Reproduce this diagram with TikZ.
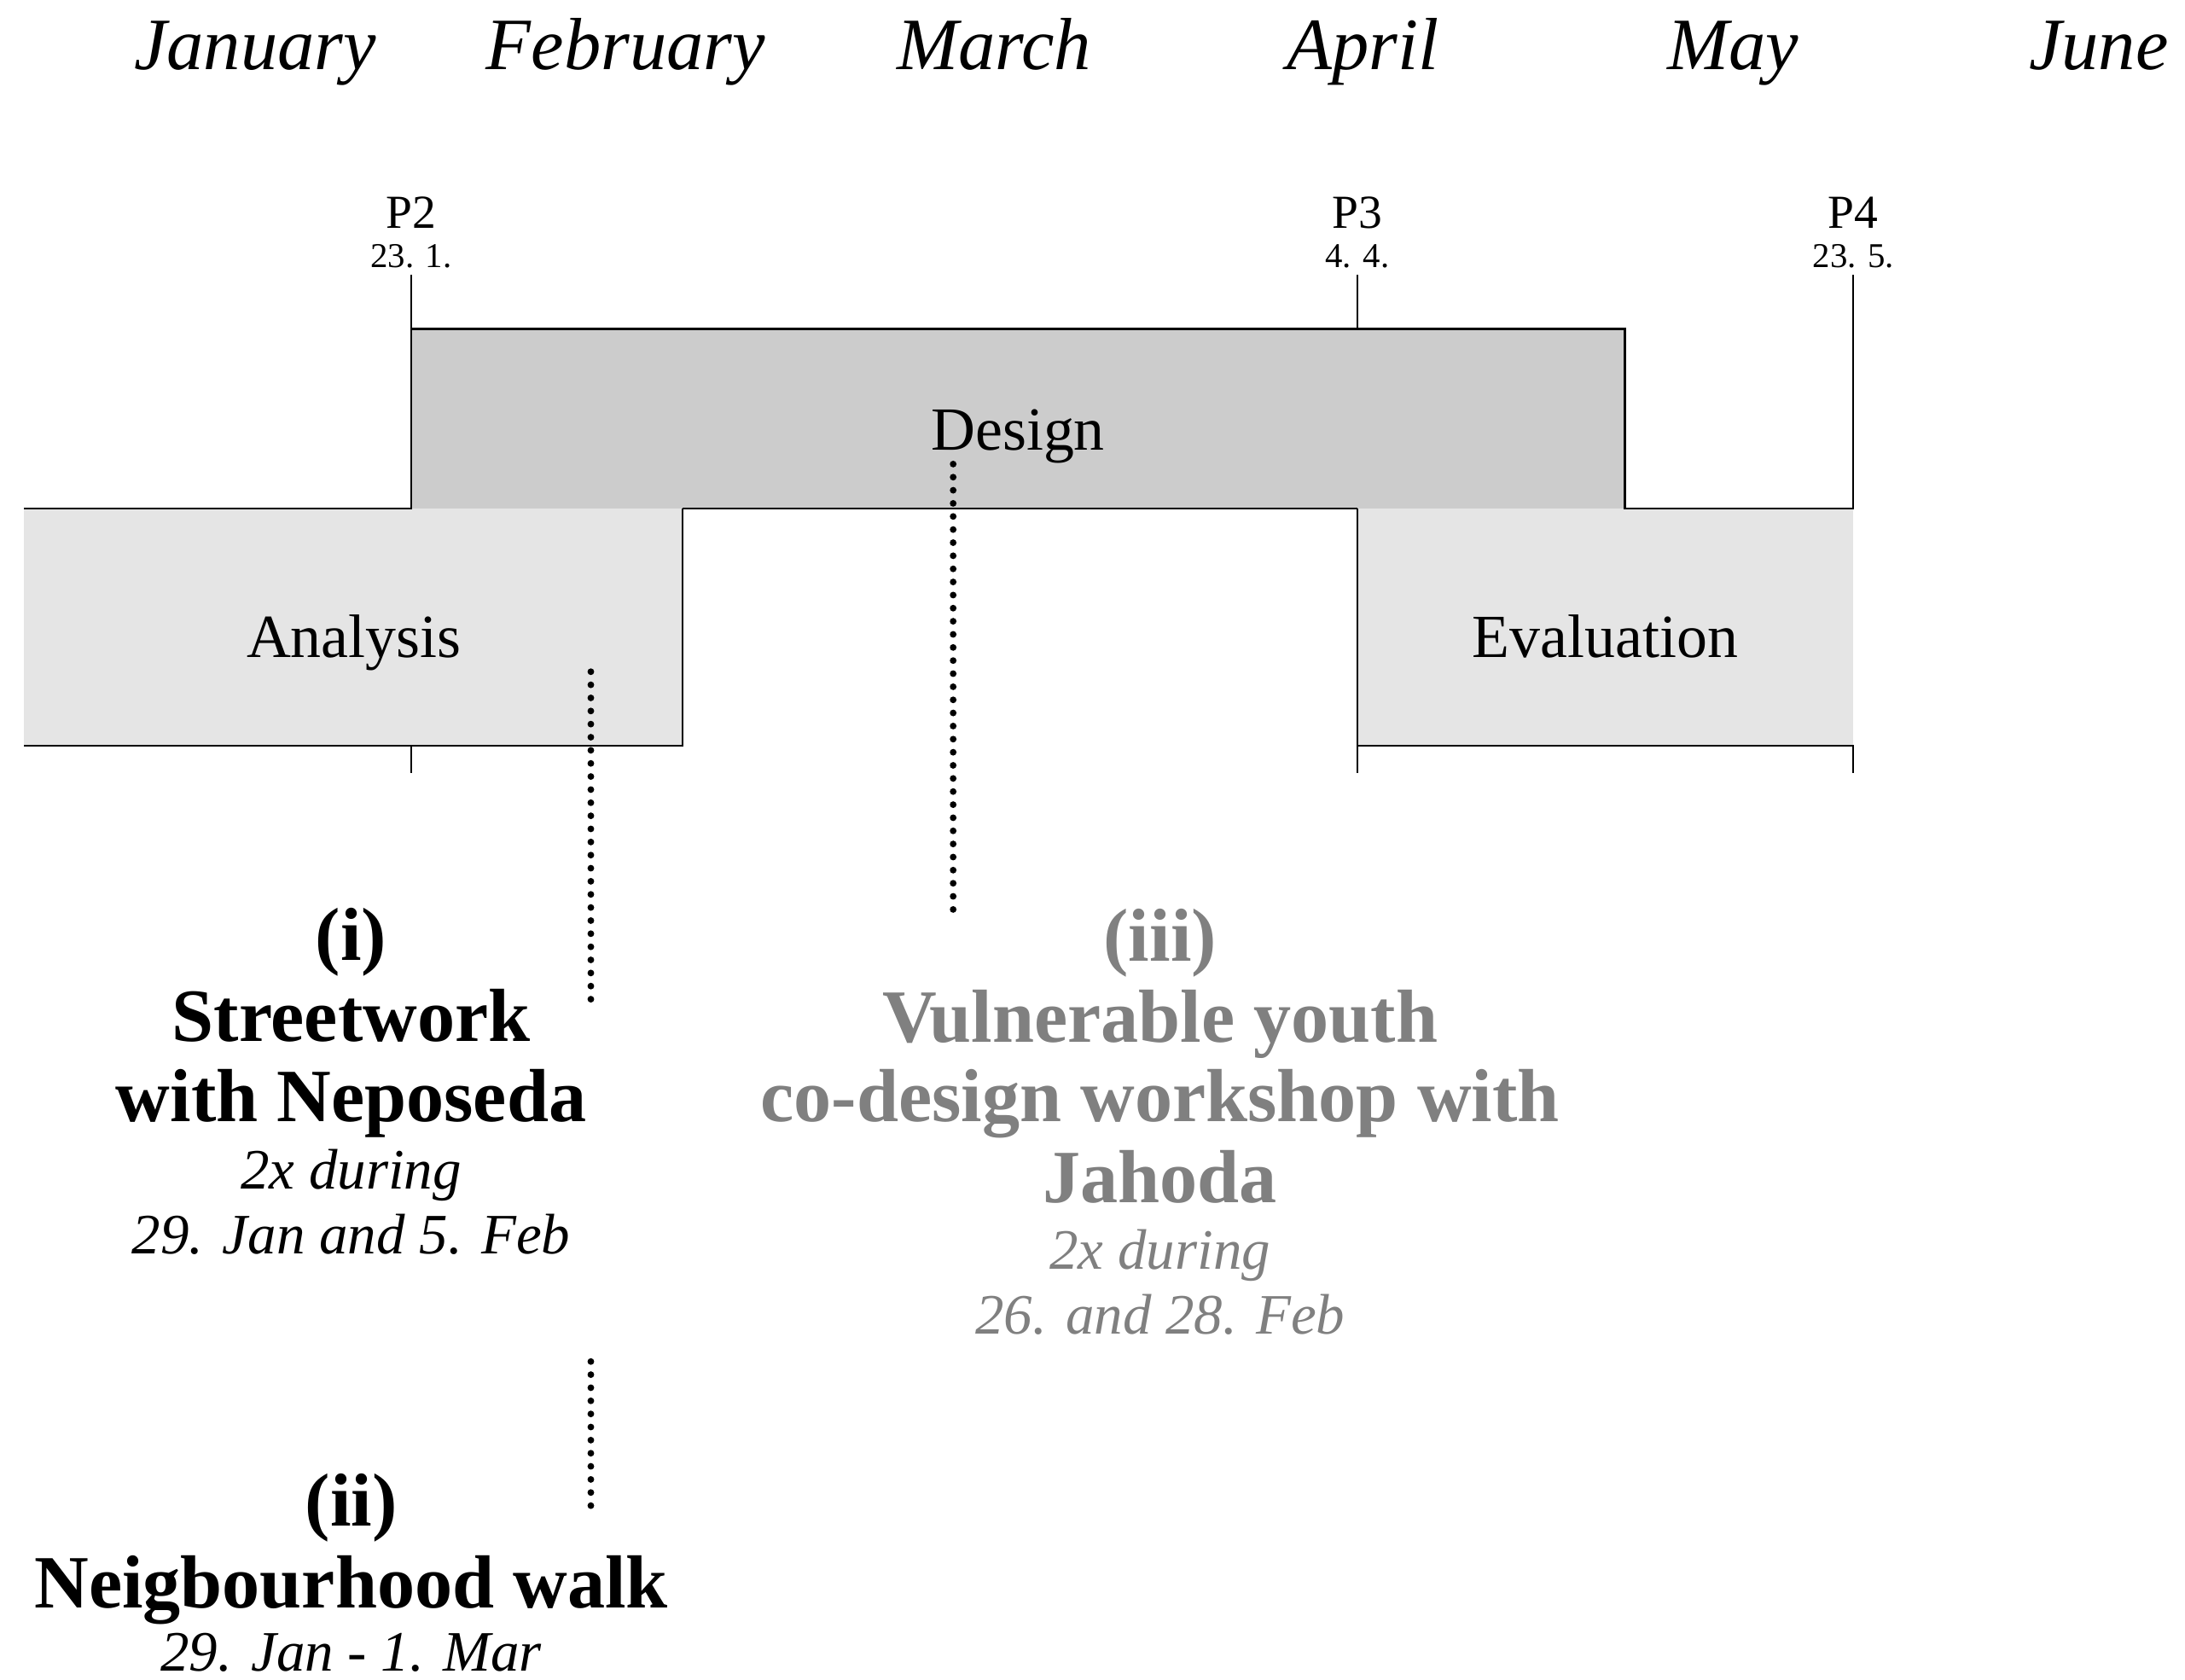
\documentclass[tikz,border=0pt]{standalone}
\usepackage{fontspec}
\setmainfont{Liberation Serif}
\definecolor{designfill}{HTML}{CCCCCC}
\definecolor{phasefill}{HTML}{E5E5E5}
\definecolor{fadegray}{HTML}{808080}
\begin{document}
\begin{tikzpicture}[x=0.5pt,y=-0.5pt,
  every node/.style={inner sep=0pt, outer sep=0pt},
  month/.style={font=\fontsize{26.5}{30}\selectfont\itshape, anchor=base},
  plabel/.style={font=\fontsize{17}{20}\selectfont, anchor=base},
  pdate/.style={font=\fontsize{12.5}{15}\selectfont, anchor=base},
  phase/.style={font=\fontsize{22}{26}\selectfont, anchor=base},
  ttl/.style={font=\fontsize{27}{30}\selectfont\bfseries, anchor=base},
  subtxt/.style={font=\fontsize{20.5}{24}\selectfont\itshape, anchor=base},
  outline/.style={line width=0.7pt, black},
  dots/.style={line width=2.4pt, line cap=round, dash pattern=on 0pt off 4.7pt},
  faded/.style={text=fadegray}]
\useasboundingbox (0,0) rectangle (1568,1205);

% months
\node[month] (jan) at (183,50) {January};
\node[month] (feb) at (449,50) {February};
\node[month] (mar) at (713.5,50) {March};
\node[month] (apr) at (978,50) {April};
\node[month] (may) at (1243.5,50) {May};
\node[month] (jun) at (1506,50) {June};

% milestones
\node[plabel] (p2) at (295,164) {P2};
\node[pdate] (p2d) at (295,192) {23. 1.};
\node[plabel] (p3) at (974,164) {P3};
\node[pdate] (p3d) at (974,192) {4. 4.};
\node[plabel] (p4) at (1330,164) {P4};
\node[pdate] (p4d) at (1330,192) {23. 5.};

% phase fills
\fill[designfill] (295,236) rectangle (1166,365);
\fill[phasefill] (17,365) rectangle (490,535);
\fill[phasefill] (974,365) rectangle (1330,535);

% outlines and ticks
\draw[outline] (17,365) -- (295,365) -- (295,197);
\draw[outline] (295,236) -- (1166,236) -- (1166,365) -- (1330,365) -- (1330,197);
\draw[outline] (974,197) -- (974,236);
\draw[outline] (490,365) -- (974,365);
\draw[outline] (490,365) -- (490,535) -- (17,535);
\draw[outline] (974,365) -- (974,555);
\draw[outline] (974,535) -- (1330,535) -- (1330,555);
\draw[outline] (295,535) -- (295,555);

% phase labels
\node[phase] (design) at (730.5,323) {Design};
\node[phase] (analysis) at (254,472) {Analysis};
\node[phase] (evaluation) at (1152,472) {Evaluation};

% dotted leaders
\coordinate (d1a) at (424,482); \coordinate (d1b) at (424,720);
\coordinate (d2a) at (684,333); \coordinate (d2b) at (684,655);
\coordinate (d3a) at (424,977); \coordinate (d3b) at (424,1082);
\draw[dots] (d1a) -- (d1b);
\draw[dots] (d2a) -- (d2b);
\draw[dots] (d3a) -- (d3b);

% block (i)
\node[ttl] (i1) at (252,689) {(i)};
\node[ttl] (i2) at (252,747) {Streetwork};
\node[ttl] (i3) at (252,805) {with Neposeda};
\node[subtxt] (i4) at (252,853) {2x during};
\node[subtxt] (i5) at (252,900) {29. Jan and 5. Feb};

% block (ii)
\node[ttl] (ii1) at (252,1095) {(ii)};
\node[ttl] (ii2) at (252,1154) {Neigbourhood walk};
\node[subtxt] (ii3) at (252,1199) {29. Jan - 1. Mar};

% block (iii)
\node[ttl,faded] (iii1) at (832.5,690) {(iii)};
\node[ttl,faded] (iii2) at (832.5,748) {Vulnerable youth};
\node[ttl,faded] (iii3) at (832.5,805) {co-design workshop with};
\node[ttl,faded] (iii4) at (832.5,863) {Jahoda};
\node[subtxt,faded] (iii5) at (832.5,911) {2x during};
\node[subtxt,faded] (iii6) at (832.5,957) {26. and 28. Feb};
\end{tikzpicture}
\end{document}
